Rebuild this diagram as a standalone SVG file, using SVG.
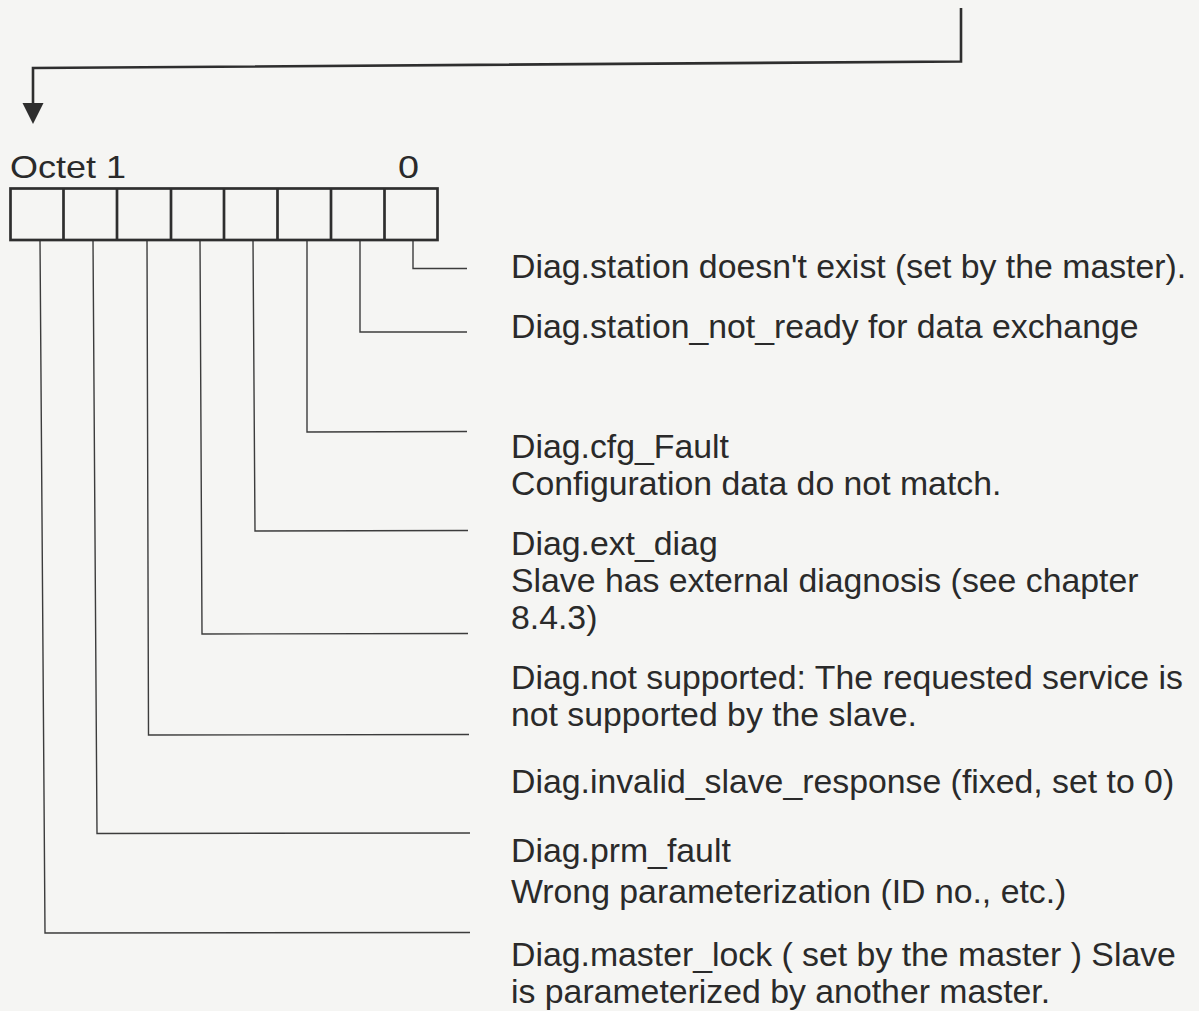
<svg xmlns="http://www.w3.org/2000/svg" width="1199" height="1011" viewBox="0 0 1199 1011">
<defs>
<style>
.lbl{font-family:"Liberation Sans",Arial,Helvetica,sans-serif;font-size:33.8px;fill:#2a2a2a}
.hdr{font-family:"Liberation Sans",Arial,Helvetica,sans-serif;font-size:32px;fill:#2a2a2a}
.box{fill:none;stroke:#2e2e2e;stroke-width:2.7}
.lead{fill:none;stroke:#3c3c3c;stroke-width:1.4}
.main{fill:none;stroke:#2e2e2e;stroke-width:2.6}
</style>
<marker id="arr" markerUnits="userSpaceOnUse" markerWidth="22" markerHeight="22" refX="0" refY="10.5" orient="auto">
<path d="M0,0 L21,10.5 L0,21 Z" fill="#2e2e2e"/>
</marker>
</defs>
<rect x="0" y="0" width="1199" height="1011" fill="#f5f5f3"/>

<g id="connectors">
<path class="main" d="M961,8 L961,61.5 L33,68 L33,103" marker-end="url(#arr)"/>
<path class="lead" d="M413,240 L413,268.5 L467,268.5"/>
<path class="lead" d="M360,240 L360,332 L467,332"/>
<path class="lead" d="M307,240 L307,432 L467,431.5"/>
<path class="lead" d="M253,240 L255,531 L468,530.5"/>
<path class="lead" d="M200,240 L202,634 L468,633.5"/>
<path class="lead" d="M147,240 L148.5,735 L469,734.5"/>
<path class="lead" d="M93,240 L97,833.5 L470,833"/>
<path class="lead" d="M40,240 L45,933 L470,932.5"/>
</g>

<g id="octet1">
<text class="hdr" x="10" y="178" textLength="116" lengthAdjust="spacingAndGlyphs">Octet 1</text>
<text class="hdr" transform="translate(398,178) scale(1.18,1)">0</text>
<rect class="box" x="10.5" y="188.5" width="427" height="51.5"/>
<path class="box" d="M63.5,188.5 V240 M117,188.5 V240 M171,188.5 V240 M224,188.5 V240 M277.5,188.5 V240 M331,188.5 V240 M384.5,188.5 V240"/>
</g>

<g id="bit0"><text class="lbl" x="511" y="277.5">Diag.station doesn't exist (set by the master).</text></g>
<g id="bit1"><text class="lbl" x="511" y="337.5">Diag.station_not_ready for data exchange</text></g>
<g id="bit2"><text class="lbl" x="511" y="458">Diag.cfg_Fault</text><text class="lbl" x="511" y="495">Configuration data do not match.</text></g>
<g id="bit3"><text class="lbl" x="511" y="555">Diag.ext_diag</text><text class="lbl" x="511" y="592">Slave has external diagnosis (see chapter</text><text class="lbl" x="511" y="629">8.4.3)</text></g>
<g id="bit4"><text class="lbl" x="511" y="689">Diag.not supported: The requested service is</text><text class="lbl" x="511" y="726">not supported by the slave.</text></g>
<g id="bit5"><text class="lbl" x="511" y="793">Diag.invalid_slave_response (fixed, set to 0)</text></g>
<g id="bit6"><text class="lbl" x="511" y="862">Diag.prm_fault</text><text class="lbl" x="511" y="903">Wrong parameterization (ID no., etc.)</text></g>
<g id="bit7"><text class="lbl" x="511" y="966">Diag.master_lock ( set by the master ) Slave</text><text class="lbl" x="511" y="1003">is parameterized by another master.</text></g>
</svg>
